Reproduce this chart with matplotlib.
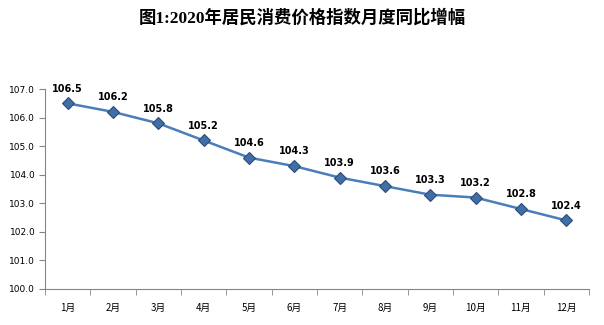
import numpy as np
import matplotlib
matplotlib.use('Agg')
import matplotlib.pyplot as plt

plt.rcParams['font.family'] = ['Noto Sans CJK SC', 'DejaVu Sans']

months = ['1月', '2月', '3月', '4月', '5月', '6月',
          '7月', '8月', '9月', '10月', '11月', '12月']
cpi = [106.5, 106.2, 105.8, 105.2, 104.6, 104.3,
       103.9, 103.6, 103.3, 103.2, 102.8, 102.4]
yticks = [100.0, 101.0, 102.0, 103.0, 104.0, 105.0, 106.0, 107.0]

fig = plt.figure(figsize=(6.04, 3.25), dpi=100)
ax = fig.add_axes([0.0745, 0.111, 0.9005, 0.615])

x = np.arange(len(months))
ax.plot(x, cpi, color='#4a7ebb', lw=1.8, marker='D', ms=6.5,
        markerfacecolor='#3f6ea8', markeredgecolor='#2c4d75', markeredgewidth=0.8)
for xi, v in zip(x, cpi):
    ax.annotate('%.1f' % v, (xi, v), xytext=(0, 7), textcoords='offset points',
                ha='center', va='bottom', fontsize=7, fontweight='bold', color='#000000',
                family='DejaVu Sans')

ax.set_xlim(-0.5, len(months) - 0.5)
ax.set_ylim(100, 107)
ax.set_yticks(yticks)
ax.set_yticklabels(['%.1f' % t for t in yticks], fontsize=6.5, family='DejaVu Sans')
ax.set_xticks(x)
ax.set_xticklabels(months, fontsize=7)
ax.set_xticks(np.arange(-0.5, len(months), 1), minor=True)
ax.tick_params(axis='x', which='major', length=0, pad=10)
ax.tick_params(axis='x', which='minor', length=4, color='#868686', direction='out')
ax.tick_params(axis='y', length=4, color='#868686', direction='out', pad=3)

for s in ['top', 'right']:
    ax.spines[s].set_visible(False)
for s in ['left', 'bottom']:
    ax.spines[s].set_color('#868686')
    ax.spines[s].set_linewidth(0.8)

fig.text(0.5, 0.945, '图1:2020年居民消费价格指数月度同比增幅', ha='center', va='center',
         fontsize=12.5, fontweight='bold', family=['Liberation Serif', 'Noto Sans CJK SC'])

fig.savefig('out.png', dpi=100)
